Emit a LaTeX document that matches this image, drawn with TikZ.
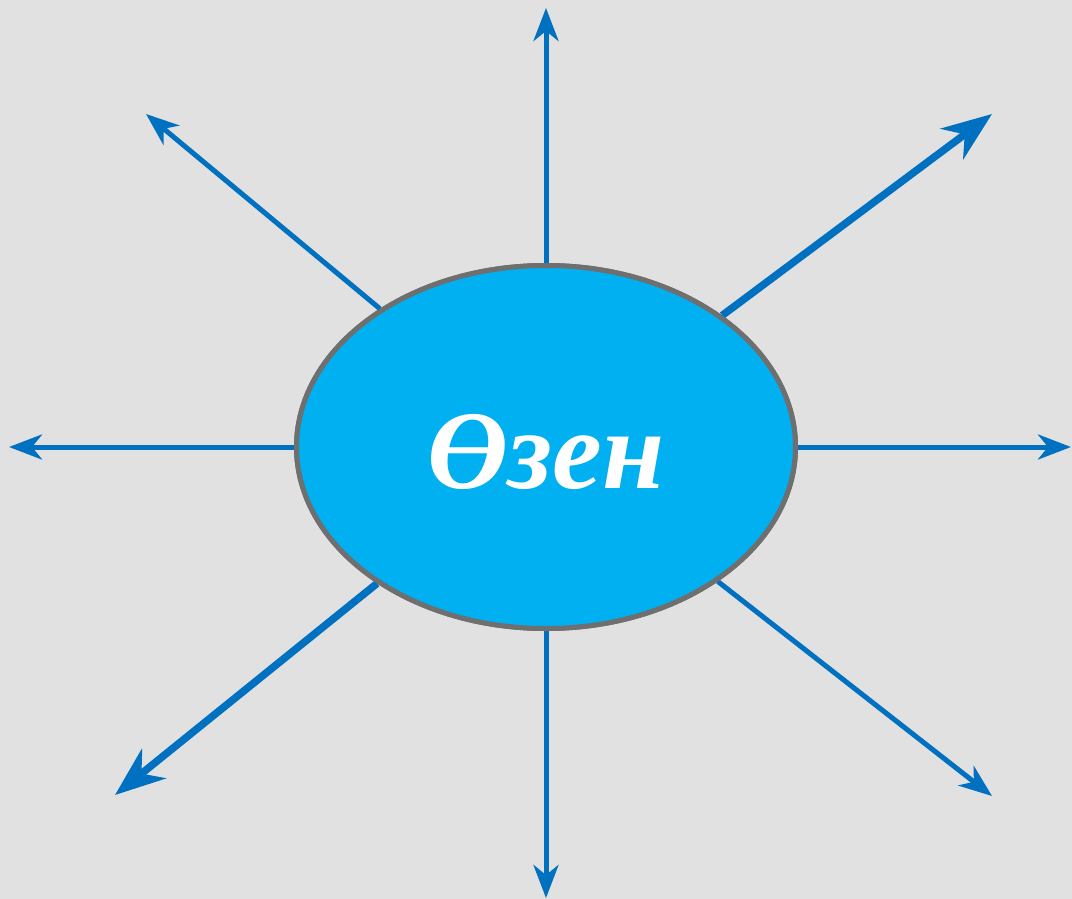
\documentclass[tikz,border=0pt]{standalone}
\usepackage{fontspec}
\setmainfont{Liberation Serif}
\usetikzlibrary{arrows.meta,shapes.geometric}
\definecolor{bgc}{HTML}{E1E1E1}
\definecolor{arrc}{HTML}{0070C0}
\definecolor{fillc}{HTML}{00B0F0}
\definecolor{edgec}{HTML}{6F6F6F}
\tikzset{
  thinarrow/.style={draw=arrc, line width=5pt, -{Stealth[length=33pt,width=25pt,inset=10pt]}},
  thickarrow/.style={draw=arrc, line width=7.5pt, -{Stealth[length=50pt,width=38pt,inset=16pt]}},
  hub/.style={ellipse, draw=edgec, line width=5pt, fill=fillc, minimum width=499pt, minimum height=363pt, inner sep=0pt}
}
\begin{document}
\begin{tikzpicture}[x=1pt,y=-1pt]
\fill[bgc] (0,0) rectangle (1072,899);
\useasboundingbox (0,0) rectangle (1072,899);
\coordinate (n) at (546,8);
\coordinate (s) at (546,898);
\coordinate (w) at (9,447);
\coordinate (e) at (1071,447);
\coordinate (nw) at (146,114);
\coordinate (ne) at (992,114);
\coordinate (sw) at (115,795);
\coordinate (se) at (992,796);
\node[hub] (c) at (546,447) {};
\draw[thinarrow] (c) -- (n);
\draw[thinarrow] (c) -- (s);
\draw[thinarrow] (c) -- (w);
\draw[thinarrow] (c) -- (e);
\draw[thinarrow] (c) -- (nw);
\draw[thinarrow] (c) -- (se);
\draw[thickarrow] (c) -- (ne);
\draw[thickarrow] (c) -- (sw);
\node[hub] (c2) at (546,447) {};
\node[text=white, font={\fontsize{112}{120}\selectfont\bfseries\itshape}] (lbl) at (546,452) {Өзен};
\end{tikzpicture}
\end{document}
